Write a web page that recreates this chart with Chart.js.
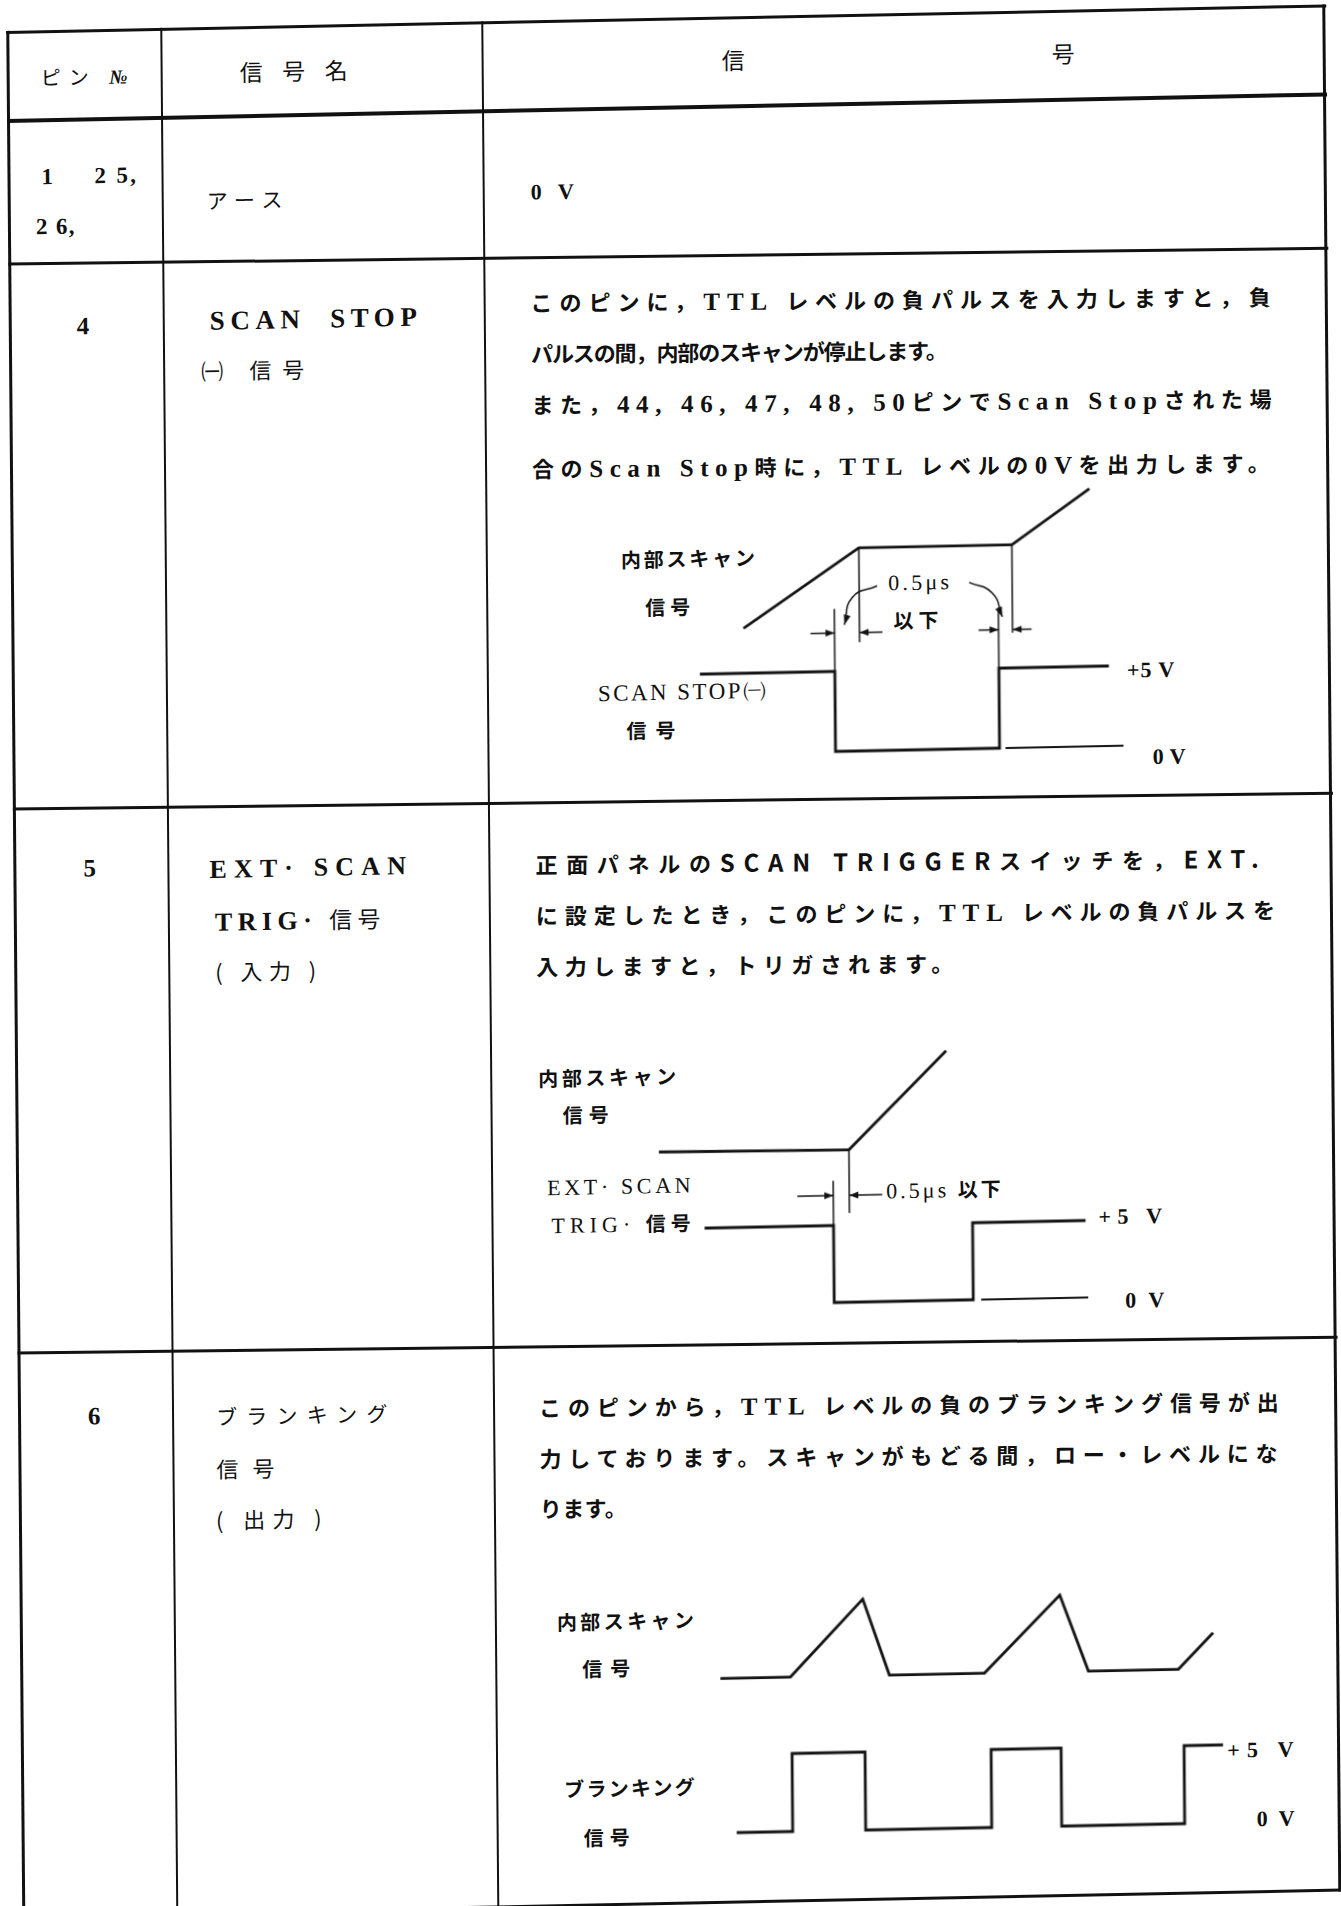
<!DOCTYPE html>
<html lang="ja">
<head>
<meta charset="utf-8">
<title>ピン信号表</title>
<script src="https://cdn.jsdelivr.net/npm/chart.js@4.4.1/dist/chart.umd.min.js"></script>
<style>
  html, body { margin: 0; padding: 0; background: #fff; }
  body { width: 1341px; height: 1906px; overflow: hidden; position: relative; }
  /* the scanned page is slightly skewed, so the whole sheet is sheared a little */
  #page { position: absolute; left: 0; top: 0; width: 1341px; height: 1930px;
          transform-origin: 0 0; transform: matrix(1, -0.02, 0.0085, 1, 0, 0); }
  .ln { position: absolute; background: #111; }
  .ln.flat { transform: rotate(0.46deg); }
  .t { position: absolute; white-space: pre; line-height: 30px; height: 30px; color: #111; }
  .jp { font-family: "Noto Sans CJK JP", sans-serif; }
  .sf { font-family: "Liberation Serif", "Noto Sans CJK JP", serif; }
  .gb { font-family: "Noto Sans CJK JP", sans-serif; font-weight: 700; font-size: 24px; }
  .b { font-weight: 700; }
  .desc { font-family: "Noto Sans CJK JP", sans-serif; font-weight: 700; font-size: 22px;
          transform-origin: 0 50%; transform: rotate(0.7deg); }
  .lt { font-family: "Liberation Serif", serif; font-weight: 700; font-size: 25px; }
  .lab { font-family: "Noto Sans CJK JP", sans-serif; font-weight: 700; font-size: 20px; }
  .num { font-family: "Liberation Serif", serif; font-size: 22px; }
  canvas { position: absolute; }
</style>
</head>
<body>
<div id="page">
  <!-- table rules -->
  <div class="ln" style="left:6px;top:31px;width:1320px;height:3px"></div>
  <div class="ln" style="left:6px;top:119px;width:1320px;height:4px"></div>
  <div class="ln flat" style="left:6px;top:268px;width:1320px;height:3px"></div>
  <div class="ln flat" style="left:6px;top:813px;width:1320px;height:3px"></div>
  <div class="ln flat" style="left:6px;top:1357px;width:1320px;height:3px"></div>
  <div class="ln" style="left:6px;top:1915px;width:1320px;height:3px"></div>
  <div class="ln" style="left:6px;top:31px;width:3px;height:1887px"></div>
  <div class="ln" style="left:160px;top:31px;width:2px;height:1887px"></div>
  <div class="ln" style="left:481px;top:31px;width:2px;height:1887px"></div>
  <div class="ln" style="left:1322px;top:31px;width:3px;height:1887px"></div>

  <!-- header -->
  <div class="t jp" style="left:40px;top:63px;font-size:20px" data-w="87">ピン <span class="sf" style="font-style:italic;font-weight:700">№</span></div>
  <div class="t jp" style="left:239px;top:61px;font-size:23px" data-w="108">信号名</div>
  <div class="t jp" style="left:721px;top:59px;font-size:23px">信</div>
  <div class="t jp" style="left:1051px;top:59px;font-size:23px">号</div>

  <!-- pins 1, 25, 26 -->
  <div class="t sf b" style="left:40px;top:163px;font-size:23px">1</div>
  <div class="t sf b" style="left:93px;top:163px;font-size:23px" data-w="42">2 5,</div>
  <div class="t sf b" style="left:34px;top:213px;font-size:23px" data-w="39">2 6,</div>
  <div class="t jp" style="left:205px;top:189px;font-size:21px" data-w="76">アース</div>
  <div class="t sf b" style="left:529px;top:188px;font-size:22px" data-w="43">0 V</div>

  <!-- pin 4 -->
  <div class="t sf b" style="left:74px;top:313px;font-size:25px">4</div>
  <div class="t sf b" style="left:207px;top:310px;font-size:27px" data-w="207">SCAN  STOP</div>
  <div class="t jp" style="left:198px;top:359px;font-size:22px" data-w="103">㈠ 信号</div>
  <div class="t desc" style="left:528px;top:297px" data-w="740">このピンに，<span class="lt">TTL</span> レベルの負パルスを入力しますと，負</div>
  <div class="t desc" style="left:528px;top:348px" data-w="417">パルスの間，内部のスキャンが停止します。</div>
  <div class="t desc" style="left:528px;top:399px" data-w="740">また，<span class="lt">44, 46, 47, 48, 50</span>ピンで<span class="lt">Scan Stop</span>された場</div>
  <div class="t desc" style="left:528px;top:463px" data-w="738">合の<span class="lt">Scan Stop</span>時に，<span class="lt">TTL</span> レベルの<span class="lt">0V</span>を出力します。</div>

  <div class="t lab" style="left:616px;top:557px" data-w="134">内部スキャン</div>
  <div class="t lab" style="left:640px;top:605px" data-w="45">信号</div>
  <div class="t num" style="left:883px;top:586px" data-w="61">0.5μs</div>
  <div class="t lab" style="left:888px;top:623px" data-w="45">以下</div>
  <div class="t num" style="left:592px;top:691px;font-size:23px" data-w="168">SCAN STOP㈠</div>
  <div class="t lab" style="left:620px;top:728px" data-w="49">信号</div>
  <div class="t num b" style="left:1121px;top:678px" data-w="48">+5 V</div>
  <div class="t num b" style="left:1146px;top:765px" data-w="33">0 V</div>
  <canvas id="stopChart" width="640" height="320" style="left:560px;top:488px"></canvas>

  <!-- pin 5 -->
  <div class="t sf b" style="left:76px;top:855px;font-size:25px">5</div>
  <div class="t sf b" style="left:202px;top:859px;font-size:26px" data-w="196">EXT· SCAN</div>
  <div class="t sf b" style="left:207px;top:910px;font-size:26px" data-w="166">TRIG· <span class="jp" style="font-weight:400;font-size:23px">信号</span></div>
  <div class="t jp" style="left:207px;top:960px;font-size:22px" data-w="101">( 入力 )</div>
  <div class="t desc" style="left:528px;top:859px" data-w="723">正面パネルの<span class="gb">SCAN TRIGGER</span>スイッチを，<span class="gb">EXT.</span></div>
  <div class="t desc" style="left:528px;top:910px" data-w="739">に設定したとき，このピンに，<span class="lt">TTL</span> レベルの負パルスを</div>
  <div class="t desc" style="left:528px;top:961px" data-w="417">入力しますと，トリガされます。</div>

  <div class="t lab" style="left:529px;top:1074px" data-w="138">内部スキャン</div>
  <div class="t lab" style="left:553px;top:1111px" data-w="46">信号</div>
  <div class="t num" style="left:537px;top:1184px" data-w="143">EXT· SCAN</div>
  <div class="t num" style="left:541px;top:1221px" data-w="139">TRIG· <span class="lab">信号</span></div>
  <div class="t num" style="left:876px;top:1193px" data-w="114">0.5μs <span class="lab">以下</span></div>
  <div class="t num b" style="left:1088px;top:1224px" data-w="64">+5 V</div>
  <div class="t num b" style="left:1114px;top:1308px" data-w="39">0 V</div>
  <canvas id="trigChart" width="560" height="300" style="left:600px;top:1040px"></canvas>

  <!-- pin 6 -->
  <div class="t sf b" style="left:76px;top:1403px;font-size:25px">6</div>
  <div class="t jp" style="left:204px;top:1405px;font-size:21px" data-w="171">ブランキング</div>
  <div class="t jp" style="left:204px;top:1457px;font-size:22px" data-w="58">信号</div>
  <div class="t jp" style="left:203px;top:1508px;font-size:22px" data-w="106">( 出力 )</div>
  <div class="t desc" style="left:527px;top:1402px" data-w="740">このピンから，<span class="lt">TTL</span> レベルの負のブランキング信号が出</div>
  <div class="t desc" style="left:527px;top:1453px" data-w="738">力しております。スキャンがもどる間，ロー・レベルにな</div>
  <div class="t desc" style="left:527px;top:1503px" data-w="87">ります。</div>

  <div class="t lab" style="left:543px;top:1618px" data-w="137">内部スキャン</div>
  <div class="t lab" style="left:568px;top:1665px" data-w="48">信号</div>
  <div class="t lab" style="left:549px;top:1785px" data-w="130">ブランキング</div>
  <div class="t lab" style="left:568px;top:1834px" data-w="46">信号</div>
  <div class="t num b" style="left:1212px;top:1760px" data-w="67">+5 V</div>
  <div class="t num b" style="left:1241px;top:1829px" data-w="38">0 V</div>
  <canvas id="blankChart" width="560" height="290" style="left:680px;top:1580px"></canvas>
</div>

<script>
// stretch each text line to the width it has in the scan
document.querySelectorAll('[data-w]').forEach((el) => {
  const target = +el.dataset.w;
  const natural = el.offsetWidth;
  const n = [...el.textContent].length;
  if (n > 1) el.style.letterSpacing = ((target - natural) / (n - 1)).toFixed(2) + 'px';
});

const INK = '#111';
const PX_PER_T = 10; // horizontal time unit on all three diagrams

// ---- pin 4: SCAN STOP ----
const stopRampT = [17.8, 29.4, 44.7, 52.5];
const stopRampLv = [7.8, 12.7, 12.7, 16.1];
const stopPulseT = [13.4, 26.9, 26.9, 43.3, 43.3, 54.3];
const stopPulseV = [5, 5, 0, 0, 5, 5];
const stopRefT = [43.9, 55.7];
const stopRefV = [0, 0];
const stopMarkT = [26.9, 43.3, 29.4, 44.7];
const stopMarkFrom = [5, 5, 12.7, 12.7];
const stopMarkTo = [8.9, 8.8, 6.8, 7.2];
const stopArrowFrom = [24.5, 31.7, 41.3, 46.6];
const stopArrowTo = [26.9, 29.4, 43.3, 44.7];
const stopArrowLv = 7.4;
const stopCurveT = [[31.2, 28.7, 27.9], [40.4, 42.7, 43.7]];
const stopCurveLv = [[10.3, 9.6, 7.9], [10.4, 9.7, 8.2]];

// ---- pin 5: EXT. SCAN TRIG. ----
const trigRampT = [4.9, 23.9, 33.7];
const trigRampLv = [10.0, 9.9, 16.2];
const trigPulseT = [9.4, 22.3, 22.3, 36.2, 36.2, 47.5];
const trigPulseV = [5, 5, 0, 0, 5, 5];
const trigRefT = [37.0, 47.7];
const trigRefV = [0, 0];
const trigMarkT = [22.3, 23.9];
const trigMarkFrom = [5, 9.9];
const trigMarkTo = [7.9, 5.8];
const trigArrowFrom = [18.7, 27.2];
const trigArrowTo = [22.3, 23.9];
const trigArrowLv = 6.95;

// ---- pin 6: blanking ----
const blankScanT = [2.6, 9.6, 16.9, 19.5, 29.0, 36.6, 39.4, 48.4, 51.9];
const blankScanLv = [9.9, 9.9, 14.8, 9.9, 9.9, 14.8, 9.9, 9.9, 12.2];
const blankPulseT = [4.1, 9.7, 9.7, 17.0, 17.0, 29.6, 29.6, 36.6, 36.6, 48.9, 48.9, 52.8];
const blankPulseV = [0, 0, 5, 5, 0, 0, 5, 5, 0, 0, 5, 5];

function pts(ts, vs) {
  return ts.map((t, i) => ({ x: t, y: vs[i] }));
}

function trace(ts, vs, width, extra) {
  return Object.assign({
    data: pts(ts, vs), showLine: true, borderColor: INK, borderWidth: width,
    pointRadius: 0, tension: 0, clip: false, fill: false,
  }, extra || {});
}

function markers(ts, from, to) {
  return ts.map((t, i) => trace([t, t], [from[i], to[i]], 1.5));
}

function dimArrows(from, to, lv) {
  return from.map((f, i) => trace([f, to[i]], [lv, lv], 1.5, { arrow: { len: 9, half: 3.5 } }));
}

const arrowHeads = {
  id: 'arrowHeads',
  afterDatasetsDraw(chart) {
    const ctx = chart.ctx;
    chart.data.datasets.forEach((ds, i) => {
      if (!ds.arrow) return;
      const els = chart.getDatasetMeta(i).data;
      const b = els[els.length - 1];
      const a = els[els.length - 2];
      const fx = b.cp1x !== undefined && ds.tension > 0 ? b.cp1x : a.x;
      const fy = b.cp1y !== undefined && ds.tension > 0 ? b.cp1y : a.y;
      const ang = Math.atan2(b.y - fy, b.x - fx);
      const { len, half } = ds.arrow;
      const bx = b.x - len * Math.cos(ang);
      const by = b.y - len * Math.sin(ang);
      ctx.save();
      ctx.fillStyle = INK;
      ctx.beginPath();
      ctx.moveTo(b.x, b.y);
      ctx.lineTo(bx + half * Math.sin(ang), by - half * Math.cos(ang));
      ctx.lineTo(bx - half * Math.sin(ang), by + half * Math.cos(ang));
      ctx.closePath();
      ctx.fill();
      ctx.restore();
    });
  },
};

// zeroY: page row where the 0 V level of the diagram sits, pxPerV: its height of one volt
function drawDiagram(id, zeroY, pxPerV, datasets) {
  const cv = document.getElementById(id);
  const top = parseFloat(cv.style.top);
  return new Chart(cv, {
    type: 'scatter',
    data: { datasets },
    options: {
      responsive: false, animation: false, events: [],
      layout: { padding: 0 },
      plugins: { legend: { display: false }, tooltip: { enabled: false } },
      scales: {
        x: { type: 'linear', display: false, min: 0, max: cv.width / PX_PER_T },
        y: { type: 'linear', display: false,
             min: (zeroY - (top + cv.height)) / pxPerV, max: (zeroY - top) / pxPerV },
      },
    },
    plugins: [arrowHeads],
  });
}

drawDiagram('stopChart', 768, 16, [
  trace(stopRampT, stopRampLv, 2.8),
  trace(stopPulseT, stopPulseV, 2.8),
  trace(stopRefT, stopRefV, 2),
  ...markers(stopMarkT, stopMarkFrom, stopMarkTo),
  ...dimArrows(stopArrowFrom, stopArrowTo, stopArrowLv),
  ...stopCurveT.map((ts, i) => trace(ts, stopCurveLv[i], 1.5, { tension: 0.5, arrow: { len: 10, half: 3.5 } })),
]);

drawDiagram('trigChart', 1319, 15.4, [
  trace(trigRampT, trigRampLv, 2.8),
  trace(trigPulseT, trigPulseV, 2.8),
  trace(trigRefT, trigRefV, 2),
  ...markers(trigMarkT, trigMarkFrom, trigMarkTo),
  ...dimArrows(trigArrowFrom, trigArrowTo, trigArrowLv),
]);

drawDiagram('blankChart', 1847, 15.6, [
  trace(blankScanT, blankScanLv, 2.8),
  trace(blankPulseT, blankPulseV, 2.8),
]);
</script>
</body>
</html>
